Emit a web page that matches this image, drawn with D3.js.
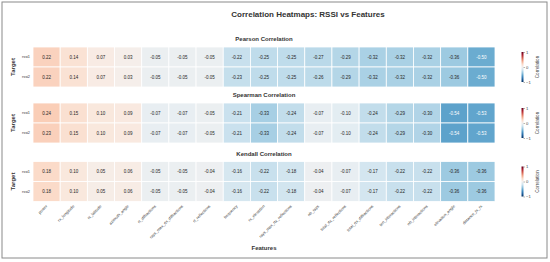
<!DOCTYPE html>
<html>
<head>
<meta charset="utf-8">
<script src="https://cdn.jsdelivr.net/npm/d3@7"></script>
<style>
  body { margin: 0; background: #fff; }
  svg { display: block; font-family: "Liberation Sans", Arial, sans-serif; }
</style>
</head>
<body>
<div id="chart"></div>
<script>
// data
var features = ["power", "rx_longitude", "rx_latitude", "azimuth_angle", "rt_diffractions",
  "rays_max_rtx_diffractions", "rt_reflections", "frequency", "rx_elevation",
  "rays_max_rtx_reflections", "nb_rays", "total_rtx_reflections", "total_rtx_diffractions",
  "ten_interactions", "nb_interactions", "elevation_angle", "distance_tx_rx"]
var targets = ["rssi1", "rssi2"]

var pearsonRssi1 = [0.22, 0.14, 0.07, 0.03, -0.05, -0.05, -0.05, -0.22, -0.25, -0.25, -0.27, -0.29, -0.32, -0.32, -0.32, -0.36, -0.50]
var pearsonRssi2 = [0.22, 0.14, 0.07, 0.03, -0.05, -0.05, -0.05, -0.23, -0.25, -0.25, -0.26, -0.29, -0.32, -0.32, -0.32, -0.36, -0.50]
var spearmanRssi1 = [0.24, 0.15, 0.10, 0.09, -0.07, -0.07, -0.05, -0.21, -0.33, -0.24, -0.07, -0.10, -0.24, -0.29, -0.30, -0.54, -0.53]
var spearmanRssi2 = [0.23, 0.15, 0.10, 0.09, -0.07, -0.07, -0.05, -0.21, -0.33, -0.24, -0.07, -0.10, -0.24, -0.29, -0.30, -0.54, -0.53]
var kendallRssi1 = [0.18, 0.10, 0.05, 0.06, -0.05, -0.05, -0.04, -0.16, -0.22, -0.18, -0.04, -0.07, -0.17, -0.22, -0.22, -0.36, -0.36]
var kendallRssi2 = [0.18, 0.10, 0.05, 0.06, -0.05, -0.05, -0.04, -0.16, -0.22, -0.18, -0.04, -0.07, -0.17, -0.22, -0.22, -0.36, -0.36]

var panels = [
  { title: "Pearson Correlation", rows: [pearsonRssi1, pearsonRssi2], top: 47 },
  { title: "Spearman Correlation", rows: [spearmanRssi1, spearmanRssi2], top: 103 },
  { title: "Kendall Correlation", rows: [kendallRssi1, kendallRssi2], top: 161.5 }
]

var width = 550, height = 262
var panelH = 40

var svg = d3.select("#chart").append("svg")
  .attr("width", width)
  .attr("height", height)

// frame around the figure
svg.append("rect")
  .attr("x", 2).attr("y", 2)
  .attr("width", 545).attr("height", 256)
  .attr("fill", "none")
  .attr("stroke", "#8a8a8a")
  .attr("stroke-width", 1)

svg.append("text")
  .attr("x", 308).attr("y", 17)
  .attr("text-anchor", "middle")
  .style("font-size", "8px")
  .style("font-weight", "bold")
  .attr("fill", "#333")
  .text("Correlation Heatmaps: RSSI vs Features")

var x = d3.scaleBand().domain(features).range([33, 495])
var color = d3.scaleSequential(d3.interpolateRdBu).domain([1, -1])

// seaborn style text colour choice (relative luminance)
function textColor(v) {
  var c = d3.rgb(color(v))
  var lin = [c.r, c.g, c.b].map(function (u) {
    u = u / 255
    return u <= 0.03928 ? u / 12.92 : Math.pow((u + 0.055) / 1.055, 2.4)
  })
  var lum = 0.2126 * lin[0] + 0.7152 * lin[1] + 0.0722 * lin[2]
  return lum > 0.408 ? "#262626" : "#ffffff"
}

var defs = svg.append("defs")
var grad = defs.append("linearGradient")
  .attr("id", "cbar")
  .attr("x1", 0).attr("y1", 1).attr("x2", 0).attr("y2", 0)
d3.range(0, 1.0001, 0.1).forEach(function (t) {
  grad.append("stop")
    .attr("offset", t)
    .attr("stop-color", color(-1 + 2 * t))
})

panels.forEach(function (p) {
  var y = d3.scaleBand().domain(targets).range([p.top, p.top + panelH])
  var g = svg.append("g")

  g.append("text")
    .attr("x", 264).attr("y", p.top - 6)
    .attr("text-anchor", "middle")
    .style("font-size", "6px")
    .style("font-weight", "bold")
    .attr("fill", "#333")
    .text(p.title)

  var cells = []
  p.rows.forEach(function (row, i) {
    row.forEach(function (v, j) {
      cells.push({ target: targets[i], feature: features[j], value: v })
    })
  })

  g.selectAll("rect.cell")
    .data(cells)
    .enter().append("rect")
    .attr("class", "cell")
    .attr("x", function (d) { return x(d.feature) })
    .attr("y", function (d) { return y(d.target) })
    .attr("width", x.bandwidth())
    .attr("height", y.bandwidth())
    .attr("fill", function (d) { return color(d.value) })
    .attr("stroke", "#fff")
    .attr("stroke-width", 0.8)

  g.selectAll("text.annot")
    .data(cells)
    .enter().append("text")
    .attr("class", "annot")
    .attr("x", function (d) { return x(d.feature) + x.bandwidth() / 2 })
    .attr("y", function (d) { return y(d.target) + y.bandwidth() / 2 })
    .attr("dy", "0.35em")
    .attr("text-anchor", "middle")
    .style("font-size", "4.5px")
    .attr("fill", function (d) { return textColor(d.value) })
    .text(function (d) { return d.value.toFixed(2) })

  // row labels
  g.selectAll("text.rowlab")
    .data(targets)
    .enter().append("text")
    .attr("class", "rowlab")
    .attr("x", 30)
    .attr("y", function (d) { return y(d) + y.bandwidth() / 2 })
    .attr("dy", "0.35em")
    .attr("text-anchor", "end")
    .style("font-size", "3.8px")
    .attr("fill", "#333")
    .text(function (d) { return d })

  g.append("text")
    .attr("transform", "translate(15," + (p.top + panelH / 2) + ") rotate(-90)")
    .attr("text-anchor", "middle")
    .style("font-size", "6px")
    .style("font-weight", "bold")
    .attr("fill", "#333")
    .text("Target")

  // colorbar
  var cbTop = p.top + panelH / 2 - 15, cbH = 30
  var cy = d3.scaleLinear().domain([-1, 1]).range([cbTop + cbH, cbTop])
  g.append("rect")
    .attr("x", 521.5).attr("y", cbTop)
    .attr("width", 2).attr("height", cbH)
    .attr("fill", "url(#cbar)")
  var cax = g.append("g")
    .attr("transform", "translate(523.5,0)")
    .call(d3.axisRight(cy).tickValues([-1, 0, 1]).tickSize(1.5).tickPadding(1)
      .tickFormat(function (d) { return d < 0 ? "\u2212" + Math.abs(d) : d }))
  cax.select(".domain").remove()
  cax.selectAll("line").attr("stroke", "#444").attr("stroke-width", 0.4)
  cax.selectAll("text").style("font-size", "4.2px").attr("fill", "#444")
  g.append("text")
    .attr("transform", "translate(539," + (cbTop + cbH / 2) + ") rotate(-90)")
    .attr("text-anchor", "middle")
    .style("font-size", "4.6px")
    .attr("fill", "#444")
    .text("Correlation")
})

// feature labels on the bottom heatmap only
var lastBottom = panels[2].top + panelH
svg.append("g").selectAll("text.feat")
  .data(features)
  .enter().append("text")
  .attr("class", "feat")
  .attr("transform", function (d) {
    return "translate(" + (x(d) + x.bandwidth() / 2 + 1) + "," + (lastBottom + 5) + ") rotate(-45)"
  })
  .attr("text-anchor", "end")
  .style("font-size", "4px")
  .attr("fill", "#444")
  .text(function (d) { return d })

svg.append("text")
  .attr("x", 264).attr("y", 250)
  .attr("text-anchor", "middle")
  .style("font-size", "6px")
  .style("font-weight", "bold")
  .attr("fill", "#333")
  .text("Features")
</script>
</body>
</html>
